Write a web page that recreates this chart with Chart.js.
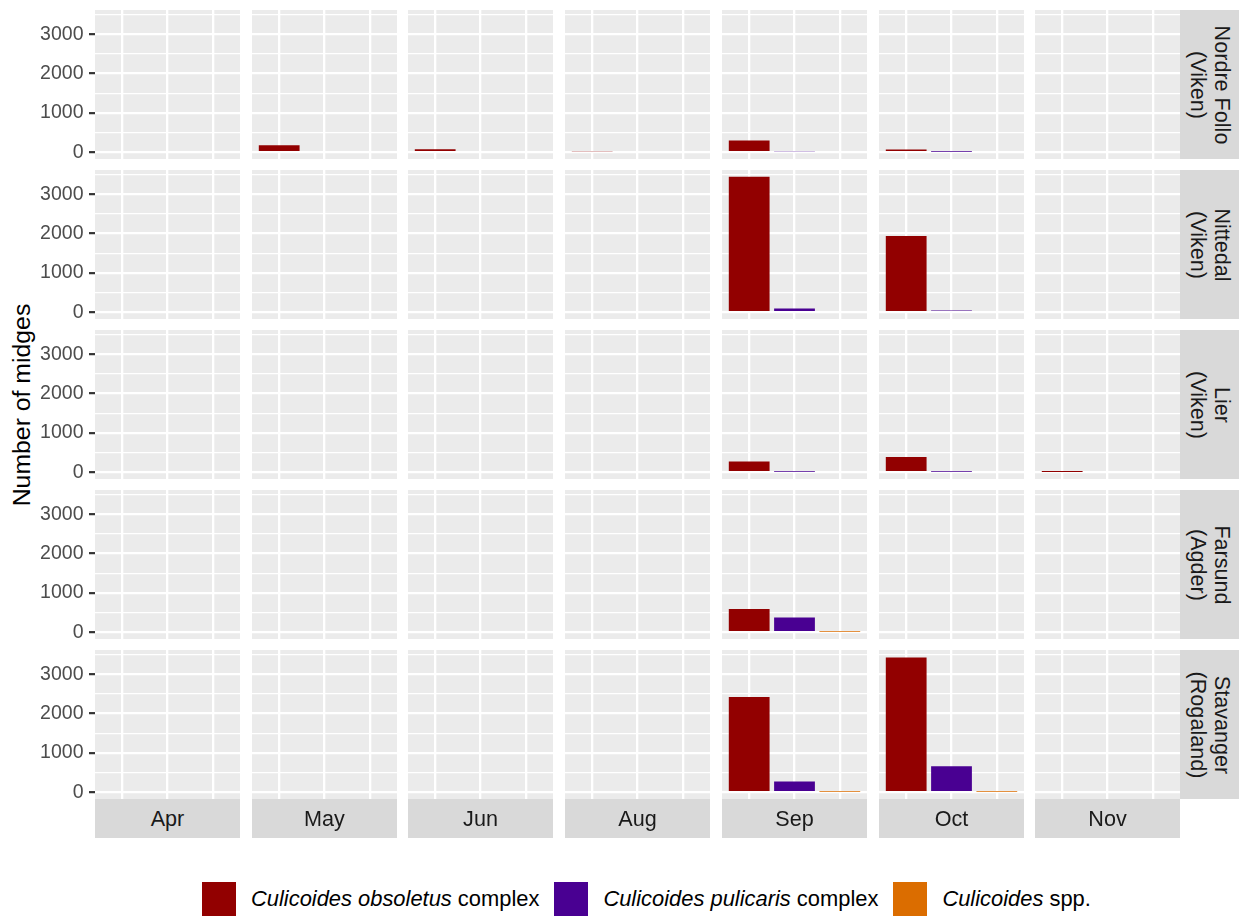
<!DOCTYPE html>
<html>
<head>
<meta charset="utf-8">
<script src="https://cdn.jsdelivr.net/npm/chart.js@4.4.0/dist/chart.umd.min.js"></script>
<style>
  html, body { margin: 0; padding: 0; background: #ffffff; }
  body { width: 1239px; height: 916px; position: relative; overflow: hidden;
         font-family: "Liberation Sans", Arial, sans-serif; }
  canvas { position: absolute; }
  .strip { position: absolute; background: #D9D9D9; color: #1A1A1A; font-size: 21.6px; overflow: hidden; }
  .strip span { position: absolute; left: 50%; top: 50%; white-space: nowrap; text-align: center; }
  .strip.bottom span { transform: translate(-50%, -50%); }
  .strip.right span { transform: translate(-50%, -50%) rotate(90deg); line-height: 24px; }
  .ytitle { position: absolute; left: 22px; top: 405px; transform: translate(-50%, -50%) rotate(-90deg);
            font-size: 24.8px; color: #000; white-space: nowrap; }
  .legend { position: absolute; left: 201.5px; top: 881.5px; height: 34.5px; display: flex; align-items: center; }
  .legend .key { width: 34.5px; height: 34.5px; flex: none; }
  .legend .label { font-size: 21.9px; color: #000; margin-left: 15px; margin-right: 14.5px; white-space: nowrap; }
</style>
</head>
<body>
<div class="ytitle">Number of midges</div>
<div class="legend" id="legend"></div>
<script>
// Facets: sampling months (columns) and trap sites (rows)
const months = ['Apr', 'May', 'Jun', 'Aug', 'Sep', 'Oct', 'Nov'];
const sites = ['Nordre Follo', 'Nittedal', 'Lier', 'Farsund', 'Stavanger'];
const regions = ['(Viken)', '(Viken)', '(Viken)', '(Agder)', '(Rogaland)'];

// Species groups shown in each panel, in bar order
const speciesGenus = ['Culicoides', 'Culicoides', 'Culicoides'];
const speciesEpithet = ['obsoletus', 'pulicaris', 'spp.'];
const speciesSuffix = ['complex', 'complex', ''];
const speciesColors = ['#920000', '#490092', '#DB6D00'];

// Midge counts per site (rows) and month (columns); null = nothing caught
const obsoletusCounts = [
  [null, 178, 76, 25, 299, 68, null],
  [null, null, null, null, 3444, 1940, null],
  [null, null, null, null, 274, 385, 8],
  [null, null, null, null, 590, null, null],
  [null, null, null, null, 2419, 3427, null]
];
const pulicarisCounts = [
  [null, null, null, null, 25, 10, null],
  [null, null, null, null, 94, 43, null],
  [null, null, null, null, 10, 10, null],
  [null, null, null, null, 376, null, null],
  [null, null, null, null, 274, 658, null]
];
const sppCounts = [
  [null, null, null, null, null, null, null],
  [null, null, null, null, null, null, null],
  [null, null, null, null, null, null, null],
  [null, null, null, null, 15, null, null],
  [null, null, null, null, 15, 12, null]
];

// Y axis: labelled breaks every 1000, minor grid every 500
const yMajorTicks = [0, 1000, 2000, 3000];
const yMinorTicks = [500, 1500, 2500, 3500];

// ---- layout ----
const PANEL_X0 = 95, COL_PITCH = 156.73, PANEL_W = 145;
const PANEL_Y0 = 10, ROW_PITCH = 160, PANEL_H = 149;
const CANVAS_PAD = 6;
const STRIP_H = 39, RIGHT_STRIP_W = 59;

const countsBySpecies = [obsoletusCounts, pulicarisCounts, sppCounts];
const allValues = countsBySpecies.flat(2).filter(v => v !== null);
const dataMax = Math.max(...allValues);
const yMin = -0.05 * dataMax, yMax = 1.05 * dataMax;
const yGrid = [...yMajorTicks, ...yMinorTicks].sort((a, b) => a - b);
const isMajor = v => yMajorTicks.includes(v);

Chart.defaults.font.family = '"Liberation Sans", Arial, sans-serif';

const panelBackground = {
  id: 'panelBackground',
  beforeDraw(chart) {
    const { ctx, chartArea: a } = chart;
    ctx.save();
    ctx.fillStyle = '#EBEBEB';
    ctx.fillRect(a.left, a.top, a.right - a.left, a.bottom - a.top);
    ctx.restore();
  }
};

function colLeft(c) { return Math.round(PANEL_X0 + c * COL_PITCH); }
function rowTop(r) { return Math.round(PANEL_Y0 + r * ROW_PITCH); }

function makePanel(r, c) {
  const isLeft = c === 0;
  const left = colLeft(c);
  const top = rowTop(r);
  const canvas = document.createElement('canvas');
  const cLeft = isLeft ? 0 : left;
  const cWidth = isLeft ? left + PANEL_W : PANEL_W;
  canvas.width = cWidth;
  canvas.height = PANEL_H + 2 * CANVAS_PAD;
  canvas.style.left = cLeft + 'px';
  canvas.style.top = (top - CANVAS_PAD) + 'px';
  canvas.style.width = cWidth + 'px';
  canvas.style.height = (PANEL_H + 2 * CANVAS_PAD) + 'px';
  document.body.appendChild(canvas);

  const points = countsBySpecies.map((rows, i) => ({ x: i + 1, y: rows[r][c] }));

  new Chart(canvas, {
    type: 'bar',
    data: {
      datasets: [{
        data: points,
        backgroundColor: speciesColors,
        borderWidth: 0,
        categoryPercentage: 0.9,
        barPercentage: 1.0
      }]
    },
    options: {
      responsive: false,
      animation: false,
      events: [],
      layout: { padding: { top: CANVAS_PAD, bottom: CANVAS_PAD, left: 0, right: 0 } },
      plugins: { legend: { display: false }, tooltip: { enabled: false } },
      scales: {
        x: {
          type: 'linear',
          min: 0.4, max: 3.6,
          offset: false,
          afterBuildTicks: s => { s.ticks = [1, 2, 3].map(v => ({ value: v })); },
          afterFit: s => { s.height = 0; s.paddingLeft = 0; s.paddingRight = 0; },
          border: { display: false },
          grid: { color: '#FFFFFF', lineWidth: 2.3, drawTicks: false, offset: false },
          ticks: { display: false }
        },
        y: {
          type: 'linear',
          min: yMin, max: yMax,
          afterBuildTicks: s => { s.ticks = yGrid.map(v => ({ value: v })); },
          afterFit: s => { s.width = isLeft ? left : 0; s.paddingTop = 0; s.paddingBottom = 0; },
          border: { display: false },
          grid: {
            color: '#FFFFFF',
            lineWidth: ctx => (ctx.tick && isMajor(ctx.tick.value)) ? 2.3 : 1.15,
            drawTicks: isLeft,
            tickLength: 6,
            tickWidth: 2.2,
            tickColor: ctx => (ctx.tick && isMajor(ctx.tick.value)) ? '#333333' : 'rgba(0,0,0,0)'
          },
          ticks: {
            display: isLeft,
            autoSkip: false,
            color: '#4D4D4D',
            font: { size: 19.5 },
            padding: 5.5,
            callback: v => isMajor(v) ? String(v) : ''
          }
        }
      }
    },
    plugins: [panelBackground]
  });
}

for (let r = 0; r < sites.length; r++) {
  for (let c = 0; c < months.length; c++) makePanel(r, c);
}

// Month strips along the bottom
months.forEach((m, c) => {
  const d = document.createElement('div');
  d.className = 'strip bottom';
  d.style.left = colLeft(c) + 'px';
  d.style.top = (rowTop(sites.length - 1) + PANEL_H) + 'px';
  d.style.width = PANEL_W + 'px';
  d.style.height = STRIP_H + 'px';
  const s = document.createElement('span');
  s.textContent = m;
  d.appendChild(s);
  document.body.appendChild(d);
});

// Site strips on the right
sites.forEach((name, r) => {
  const d = document.createElement('div');
  d.className = 'strip right';
  d.style.left = (colLeft(months.length - 1) + PANEL_W) + 'px';
  d.style.top = rowTop(r) + 'px';
  d.style.width = RIGHT_STRIP_W + 'px';
  d.style.height = PANEL_H + 'px';
  const s = document.createElement('span');
  s.innerHTML = name + '<br>' + regions[r];
  d.appendChild(s);
  document.body.appendChild(d);
});

// Legend
const legend = document.getElementById('legend');
speciesColors.forEach((col, i) => {
  const key = document.createElement('div');
  key.className = 'key';
  key.style.background = col;
  const label = document.createElement('div');
  label.className = 'label';
  label.innerHTML = '<i>' + speciesGenus[i] + ' ' + (speciesEpithet[i] === 'spp.' ? '</i>spp.' : speciesEpithet[i] + '</i>') +
    (speciesSuffix[i] ? ' ' + speciesSuffix[i] : '');
  legend.appendChild(key);
  legend.appendChild(label);
});
</script>
</body>
</html>
